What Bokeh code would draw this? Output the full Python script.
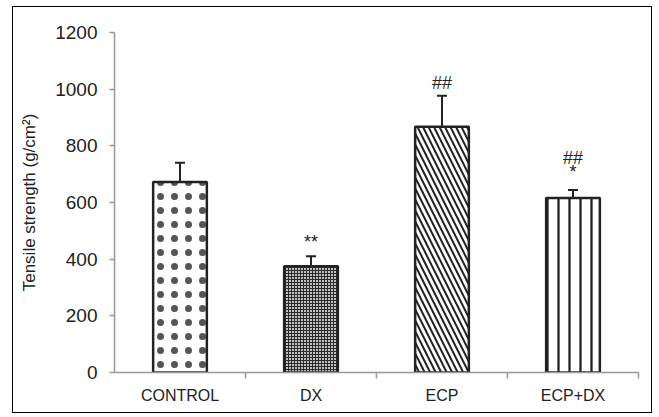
from bokeh.plotting import figure
from bokeh.models import ColumnDataSource, FixedTicker, Whisker, TeeHead, Spacer
from bokeh.layouts import column, row
from bokeh.core.properties import value
from bokeh.embed import file_html
from bokeh.resources import INLINE

categories = ["CONTROL", "DX", "ECP", "ECP+DX"]
means = [672, 375, 867, 616]
errors = [68, 35, 110, 28]
marks = ["", "**", "##", "*"]
mark_y = [0, 462, 1022, 706]
marks2 = ["", "", "", "##"]
mark2_y = [0, 0, 0, 758]
y_ticks = [0, 200, 400, 600, 800, 1000, 1200]

xs = [i + 0.5 for i in range(len(categories))]
uppers = [m + e for m, e in zip(means, errors)]

p = figure(width=640, height=407, x_range=(0, len(categories)), y_range=(0, 1200),
           output_backend="svg", toolbar_location=None,
           min_border_left=101, min_border_top=25, min_border_right=15, min_border_bottom=42)
p.styles = {"border": "1px solid #000"}
p.outline_line_color = None
p.xgrid.visible = False
p.ygrid.visible = False
p.background_fill_color = "white"
p.border_fill_color = "white"

fills = ["white", "#c0c0c0", "white", "white"]
hatches = [".", "+", "\\", "|"]
hscale = [14, 3, 11, 11]
hweight = [0.3, 1.0, 2.0, 2.3]
hcolor = ["#555555", "#2a2a2a", "#222222", "#222222"]
for i in range(len(categories)):
    src = ColumnDataSource(dict(x=[xs[i]], top=[means[i]]))
    p.vbar(x="x", top="top", width=0.41, source=src, fill_color=fills[i],
           line_color="#222222", line_width=2.5, hatch_pattern=hatches[i],
           hatch_scale=hscale[i], hatch_weight=hweight[i], hatch_color=hcolor[i])

esrc = ColumnDataSource(dict(x=xs, lower=means, upper=uppers))
w = Whisker(base="x", lower="lower", upper="upper", source=esrc, dimension="height",
            line_color="#222222", line_width=2,
            lower_head=None, upper_head=TeeHead(size=10, line_color="#222222", line_width=2))
p.add_layout(w)

tsrc = ColumnDataSource(dict(x=xs + xs, y=mark_y + mark2_y, t=marks + marks2))
p.text(x="x", y="y", text="t", source=tsrc, text_align="center", text_baseline="middle",
       text_font=value("Liberation Sans"), text_font_size="18px", text_color="#222222")

p.xaxis.ticker = FixedTicker(ticks=xs, minor_ticks=[1, 2, 3, 4])
p.xaxis.major_label_overrides = {x: c for x, c in zip(xs, categories)}
p.xaxis.major_tick_out = 0
p.xaxis.major_tick_in = 0
p.xaxis.minor_tick_out = 6
p.xaxis.minor_tick_in = 0
p.yaxis.ticker = FixedTicker(ticks=y_ticks)
p.yaxis.major_tick_out = 5
p.yaxis.major_tick_in = 0
for ax in (p.xaxis, p.yaxis):
    ax.axis_line_color = "#999999"
    ax.axis_line_width = 1.5
    ax.major_tick_line_color = "#999999"
    ax.major_tick_line_width = 1.5
    ax.minor_tick_line_color = "#999999"
    ax.minor_tick_line_width = 1.5
    ax.major_label_text_font = "Liberation Sans"
    ax.major_label_text_color = "#222222"
p.xaxis.major_label_text_font_size = "16px"
p.yaxis.major_label_text_font_size = "19px"
p.yaxis.minor_tick_line_color = None
p.xaxis.major_label_standoff = 8
p.yaxis.major_label_standoff = 12
p.yaxis.axis_label = "Tensile strength (g/cm²)"
p.yaxis.axis_label_text_font = "Liberation Sans"
p.yaxis.axis_label_text_font_style = "normal"
p.yaxis.axis_label_text_font_size = "17px"
p.yaxis.axis_label_text_color = "#222222"
p.yaxis.axis_label_standoff = 13

layout = column(Spacer(height=6), row(Spacer(width=12), p))
open("out.html", "w").write(file_html(layout, INLINE))
